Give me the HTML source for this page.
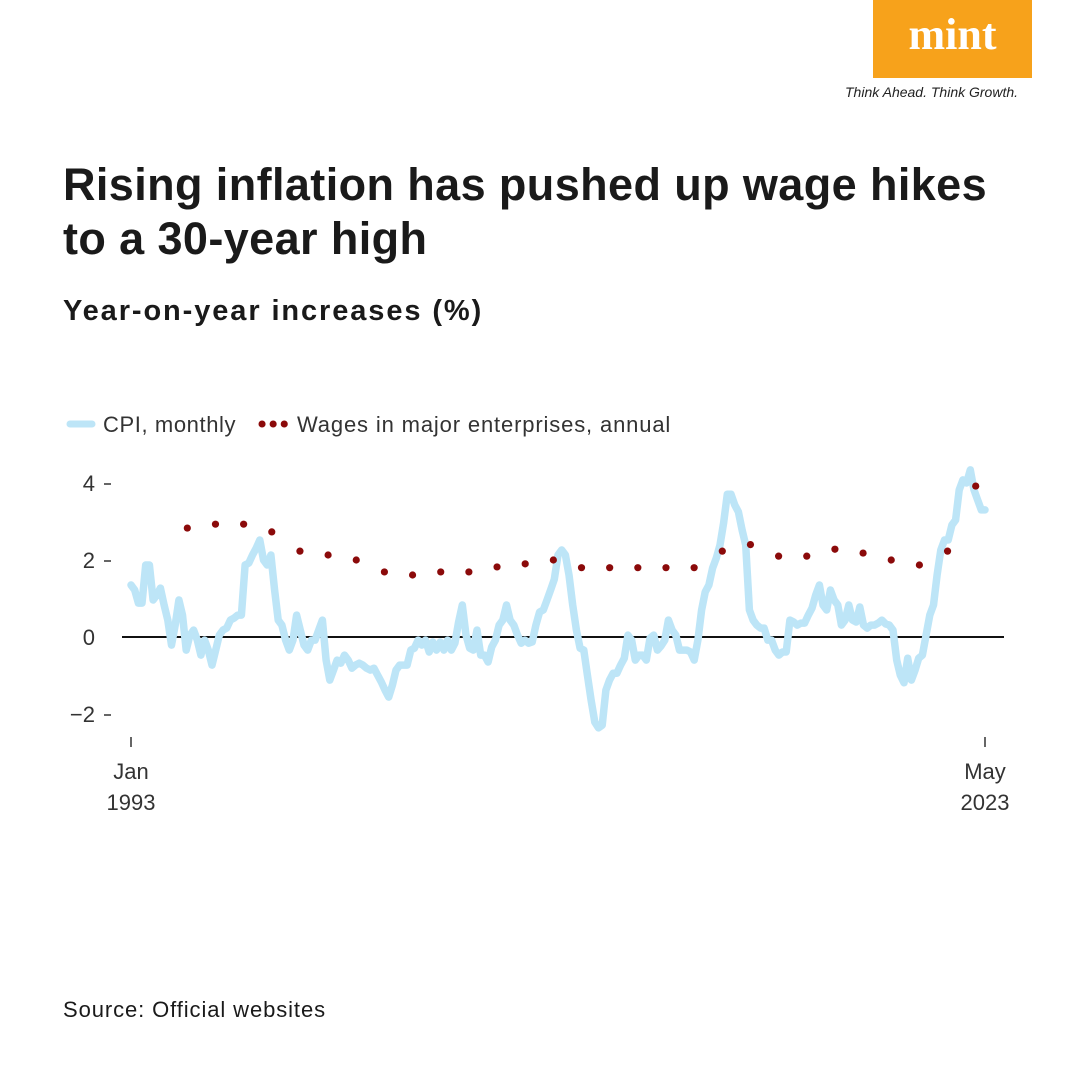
<!DOCTYPE html>
<html><head><meta charset="utf-8"><style>
body{margin:0;width:1080px;height:1080px;background:#fff;font-family:"Liberation Sans",sans-serif;overflow:hidden;position:relative}
.t{position:absolute;color:#1a1a1a}
</style></head><body>
<div style="position:absolute;left:873px;top:0;width:159px;height:78px;background:#f7a21b;color:#fff;font:bold 44px 'Liberation Serif',serif;text-align:center;line-height:70px">mint</div>
<div class="t" style="left:845px;top:84px;font:italic 14px 'Liberation Sans',sans-serif;color:#222">Think Ahead. Think Growth.</div>
<div class="t" style="left:63px;top:158px;font:bold 45px/54px 'Liberation Sans',sans-serif;letter-spacing:0.4px;width:1010px">Rising inflation has pushed up wage hikes<br>to a 30-year high</div>
<div class="t" style="left:63px;top:295px;font:bold 29px 'Liberation Sans',sans-serif;letter-spacing:1.9px">Year-on-year increases (%)</div>
<div class="t" style="left:63px;top:997px;font:22px 'Liberation Sans',sans-serif;letter-spacing:0.9px">Source: Official websites</div>
<svg id="chart" width="1080" height="1080" style="position:absolute;left:0;top:0" font-family="Liberation Sans, sans-serif">
<g>
<line x1="70" y1="424" x2="92" y2="424" stroke="#bde5f7" stroke-width="7" stroke-linecap="round"/>
<text x="103" y="432" font-size="22" fill="#333" letter-spacing="0.6">CPI, monthly</text>
<line x1="262" y1="424" x2="286" y2="424" stroke="#8b0a0a" stroke-width="7" stroke-linecap="round" stroke-dasharray="0.1 11"/>
<text x="297" y="432" font-size="22" fill="#333" letter-spacing="0.85">Wages in major enterprises, annual</text>
</g>
</svg>
<script>
const yTicks=[4,2,0,-2];
const yTickLabels=["4","2","0","\u22122"];
const xTickYears=[1993,2023.33];
const xTickLabels=[["Jan","1993"],["May","2023"]];
const wageYears=[1995,1996,1997,1998,1999,2000,2001,2002,2003,2004,2005,2006,2007,2008,2009,2010,2011,2012,2013,2014,2015,2016,2017,2018,2019,2020,2021,2022,2023];
const wageValues=[2.83,2.93,2.93,2.73,2.23,2.13,2.0,1.69,1.61,1.69,1.69,1.82,1.9,2.0,1.8,1.8,1.8,1.8,1.8,2.23,2.4,2.1,2.1,2.28,2.18,2.0,1.87,2.23,3.92];
const cpiStart=1993, cpiEnd=2023.33;
const cpiValues=[1.35,1.22,0.88,0.88,1.87,1.87,0.96,1.09,1.27,0.83,0.44,-0.21,0.31,0.96,0.57,-0.34,0.05,0.18,-0.08,-0.47,-0.08,-0.34,-0.73,-0.34,0.05,0.18,0.23,0.44,0.49,0.57,0.57,1.87,1.92,2.13,2.31,2.52,2.0,1.87,2.13,1.22,0.44,0.31,-0.08,-0.34,-0.08,0.57,0.18,-0.21,-0.34,-0.08,-0.08,0.18,0.44,-0.6,-1.12,-0.86,-0.6,-0.68,-0.47,-0.6,-0.81,-0.73,-0.68,-0.73,-0.81,-0.86,-0.81,-0.99,-1.17,-1.38,-1.56,-1.25,-0.86,-0.73,-0.73,-0.73,-0.34,-0.29,-0.08,-0.21,-0.08,-0.39,-0.13,-0.34,-0.13,-0.34,-0.08,-0.34,-0.16,0.39,0.83,0.05,-0.29,-0.34,0.18,-0.47,-0.47,-0.65,-0.26,-0.08,0.31,0.44,0.83,0.44,0.31,0.05,-0.16,-0.08,-0.16,-0.13,0.31,0.65,0.7,0.96,1.22,1.5,2.13,2.26,2.13,1.61,0.83,0.18,-0.29,-0.34,-0.99,-1.64,-2.21,-2.36,-2.29,-1.38,-1.12,-0.94,-0.94,-0.73,-0.55,0.05,-0.08,-0.6,-0.47,-0.47,-0.6,-0.03,0.05,-0.34,-0.23,-0.08,0.44,0.18,0.05,-0.34,-0.34,-0.34,-0.39,-0.6,-0.08,0.7,1.17,1.35,1.79,2.05,2.39,2.96,3.71,3.71,3.43,3.25,2.78,2.39,0.7,0.44,0.31,0.23,0.23,-0.08,-0.08,-0.34,-0.47,-0.39,-0.39,0.44,0.39,0.31,0.36,0.36,0.57,0.75,1.09,1.35,0.83,0.7,1.22,0.96,0.83,0.31,0.44,0.83,0.44,0.39,0.78,0.31,0.23,0.31,0.31,0.36,0.44,0.34,0.31,0.18,-0.6,-0.99,-1.19,-0.55,-1.12,-0.86,-0.55,-0.47,0.05,0.57,0.83,1.61,2.26,2.52,2.52,2.91,3.04,3.82,4.08,4.0,4.34,3.82,3.56,3.3,3.3];
const NS="http://www.w3.org/2000/svg";
const svg=document.getElementById('chart');
const x=yr=>131+(yr-1993)*(985-131)/(2023.33-1993);
const y=v=>637-v*38.5;
function mk(tag,attrs){const e=document.createElementNS(NS,tag);for(const k in attrs)e.setAttribute(k,attrs[k]);svg.appendChild(e);return e;}
yTicks.forEach((v,i)=>{
 const t=mk('text',{x:95,y:y(v)+8,'font-size':22,fill:'#333','text-anchor':'end'});
 t.textContent=yTickLabels[i];
 
 
 if(v!==0){const d=mk('line',{x1:104,x2:111,y1:y(v)+1,y2:y(v)+1,stroke:'#333','stroke-width':1.5});
 
 }
});
const zl=mk('line',{x1:122,x2:1004,y1:y(0),y2:y(0),stroke:'#111','stroke-width':2});


xTickYears.forEach((yr,i)=>{
 const m=mk('line',{x1:x(yr),x2:x(yr),y1:737,y2:747,stroke:'#333','stroke-width':1.5});
 
 
 xTickLabels[i].forEach((s,j)=>{const t=mk('text',{x:x(yr),y:779+j*31,'font-size':22,fill:'#333','text-anchor':'middle'});t.textContent=s;
 
 });
});
const n=cpiValues.length;
const pts=cpiValues.map((v,i)=>x(cpiStart+i*(cpiEnd-cpiStart)/(n-1)).toFixed(1)+','+y(v).toFixed(1)).join(' ');
const line=mk('polyline',{points:pts,fill:'none',stroke:'#bde5f7','stroke-width':7.5,'stroke-linejoin':'round','stroke-linecap':'round'});


wageYears.forEach((yr,i)=>{
 const c=mk('circle',{cx:x(yr),cy:y(wageValues[i]),r:3.6,fill:'#8b0a0a'});
 
 
});
</script>
</body></html>
